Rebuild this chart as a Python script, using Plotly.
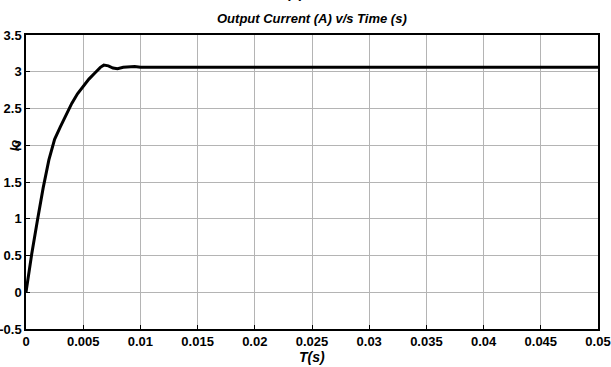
import plotly.graph_objects as go

# Output current response of the converter
time_s = [0, 0.0002, 0.0005, 0.001, 0.0015, 0.002, 0.0025, 0.003, 0.0035, 0.004,
          0.0045, 0.005, 0.0055, 0.006, 0.0065, 0.0068, 0.0072, 0.0076, 0.008,
          0.0085, 0.009, 0.0095, 0.01, 0.02, 0.03, 0.04, 0.05]
current_a = [0, 0.22, 0.52, 0.98, 1.42, 1.8, 2.08, 2.25, 2.41, 2.57,
             2.7, 2.8, 2.9, 2.98, 3.06, 3.09, 3.08, 3.05, 3.04,
             3.06, 3.07, 3.07, 3.06, 3.06, 3.06, 3.06, 3.06]

x_ticks = [0, 0.005, 0.01, 0.015, 0.02, 0.025, 0.03, 0.035, 0.04, 0.045, 0.05]
x_tick_text = ["0", "0.005", "0.01", "0.015", "0.02", "0.025", "0.03", "0.035", "0.04", "0.045", "0.05"]
y_ticks = [-0.5, 0, 0.5, 1, 1.5, 2, 2.5, 3, 3.5]
y_tick_text = ["-0.5", "0", "0.5", "1", "1.5", "2", "2.5", "3", "3.5"]

FONT = "Liberation Sans Narrow, Arial Narrow, Liberation Sans, Arial, sans-serif"

fig = go.Figure()
fig.add_trace(go.Scatter(x=time_s, y=current_a, mode="lines",
                         line=dict(color="black", width=3), showlegend=False))

axis_common = dict(
    showgrid=True, gridcolor="#b4b4b4", gridwidth=1,
    showline=True, linecolor="black", linewidth=1.5, mirror=True,
    ticks="inside", ticklen=4, tickcolor="black", tickwidth=1,
    zeroline=False, automargin=False,
    tickfont=dict(family=FONT, size=13, color="black", weight="bold"),
)

fig.update_xaxes(range=[0, 0.05], tickvals=x_ticks, ticktext=x_tick_text, **axis_common)
fig.update_yaxes(range=[-0.5, 3.5], tickvals=y_ticks, ticktext=y_tick_text, **axis_common)

fig.update_layout(
    width=611, height=367,
    margin=dict(l=26, r=13, t=35, b=38),
    plot_bgcolor="white", paper_bgcolor="white",
    annotations=[
        dict(text="<b><i>Output Current (A) v/s Time (s)</i></b>", xref="paper", yref="paper",
             x=0.5, y=1, yshift=17, xanchor="center", yanchor="middle", showarrow=False,
             font=dict(family=FONT, size=13, color="black")),
        dict(text="<b>(a)</b>", xref="paper", yref="paper",
             x=0.47, y=1, yshift=32, xanchor="center", yanchor="bottom", showarrow=False,
             font=dict(family=FONT, size=14, color="black")),
        dict(text="<b><i>T(s)</i></b>", xref="paper", yref="paper",
             x=0.5, y=0, yshift=-28, xanchor="center", yanchor="middle", showarrow=False,
             font=dict(family=FONT, size=14, color="black")),
        dict(text="<b><i>Io</i></b>", xref="paper", yref="y",
             x=0, xshift=-12, y=2, textangle=-90, xanchor="center", yanchor="middle",
             showarrow=False, font=dict(family=FONT, size=13, color="black")),
    ],
)

fig.write_html("out.html")
